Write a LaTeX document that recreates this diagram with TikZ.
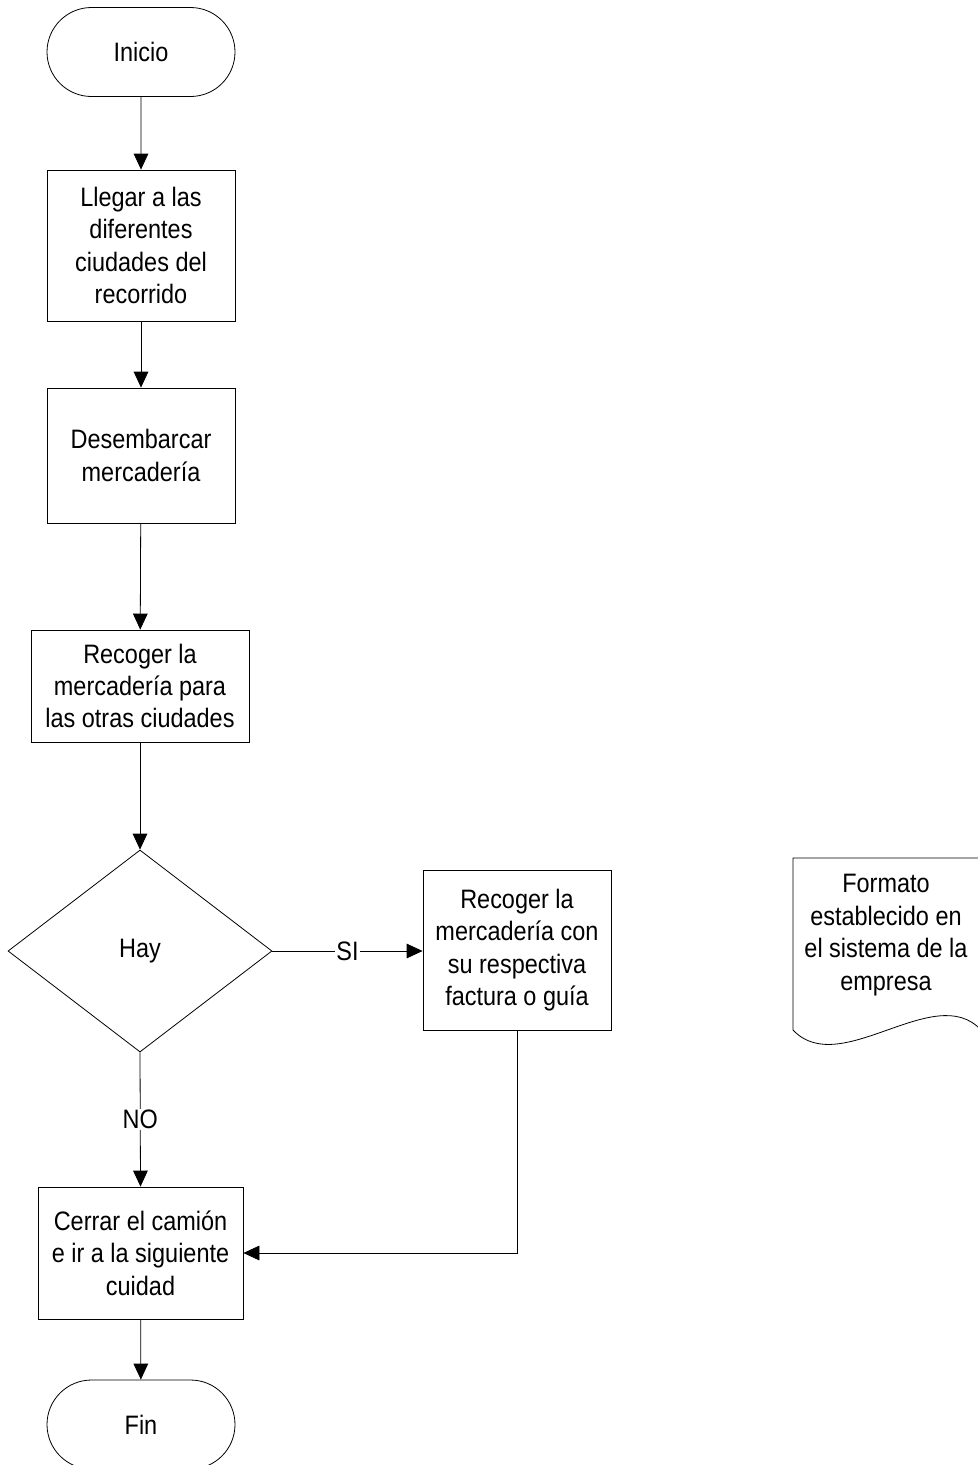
\documentclass[tikz,border=0pt]{standalone}
\usepackage{fontspec}
\setmainfont{Liberation Sans}[FakeStretch=0.88]
\usetikzlibrary{shapes.geometric,shapes.misc,arrows.meta}
\begin{document}
\begin{tikzpicture}[x=0.75pt,y=-0.75pt,
  every node/.style={font=\fontsize{20}{24.3}\selectfont, align=center},
  proc/.style={draw, line width=0.6pt, inner sep=0pt},
  term/.style={draw, line width=0.6pt, rounded rectangle, inner sep=0pt, minimum width=141pt, minimum height=66.75pt},
  decis/.style={draw, line width=0.6pt, diamond, inner sep=0pt, minimum width=198pt, minimum height=151.5pt},
  arr/.style={line width=0.6pt, -{Triangle[length=12pt,width=11pt]}},
  lbl/.style={fill=white, inner sep=1pt}]
\useasboundingbox (0,0) rectangle (978,1465);
\node[term] (ini) at (141,52) {Inicio};
\node[proc, minimum width=141pt, minimum height=113.25pt] (b1) at (141,245.5) {Llegar a las\\diferentes\\ciudades del\\recorrido};
\node[proc, minimum width=141pt, minimum height=101.25pt] (b2) at (141,455.5) {Desembarcar\\mercadería};
\node[proc, minimum width=163.5pt, minimum height=84pt] (b3) at (140,686) {Recoger la\\mercadería para\\las otras ciudades};
\node[decis] (dec) at (140,951) {Hay};
\node[proc, minimum width=141pt, minimum height=120pt] (b4) at (517,950) {Recoger la\\mercadería con\\su respectiva\\factura o guía};
\node[proc, minimum width=153.75pt, minimum height=99pt] (b5) at (140.5,1253) {Cerrar el camión\\e ir a la siguiente\\cuidad};
\node[term] (fin) at (141,1424.5) {Fin};
% document shape
\draw[line width=0.6pt] (793,1030) -- (793,858) -- (981,858) -- (981,1030)
  .. controls (935,980) and (840,1080) .. (793,1030);
\node (doc) at (886,935) {Formato\\establecido en\\el sistema de la\\empresa};
% connectors
\draw[arr] (ini) -- (b1);
\draw[arr] (b1) -- (b2);
\draw[arr] (b2) -- (b3);
\draw[arr] (b3) -- (dec);
\draw[arr] (dec.east) -- node[lbl] {SI} (dec.east -| b4.west);
\draw[arr] (dec.south) -- node[lbl] {NO} (b5.north);
\draw[arr] (b4.south) |- (b5.east);
\draw[arr] (b5) -- (fin);
\end{tikzpicture}
\end{document}
